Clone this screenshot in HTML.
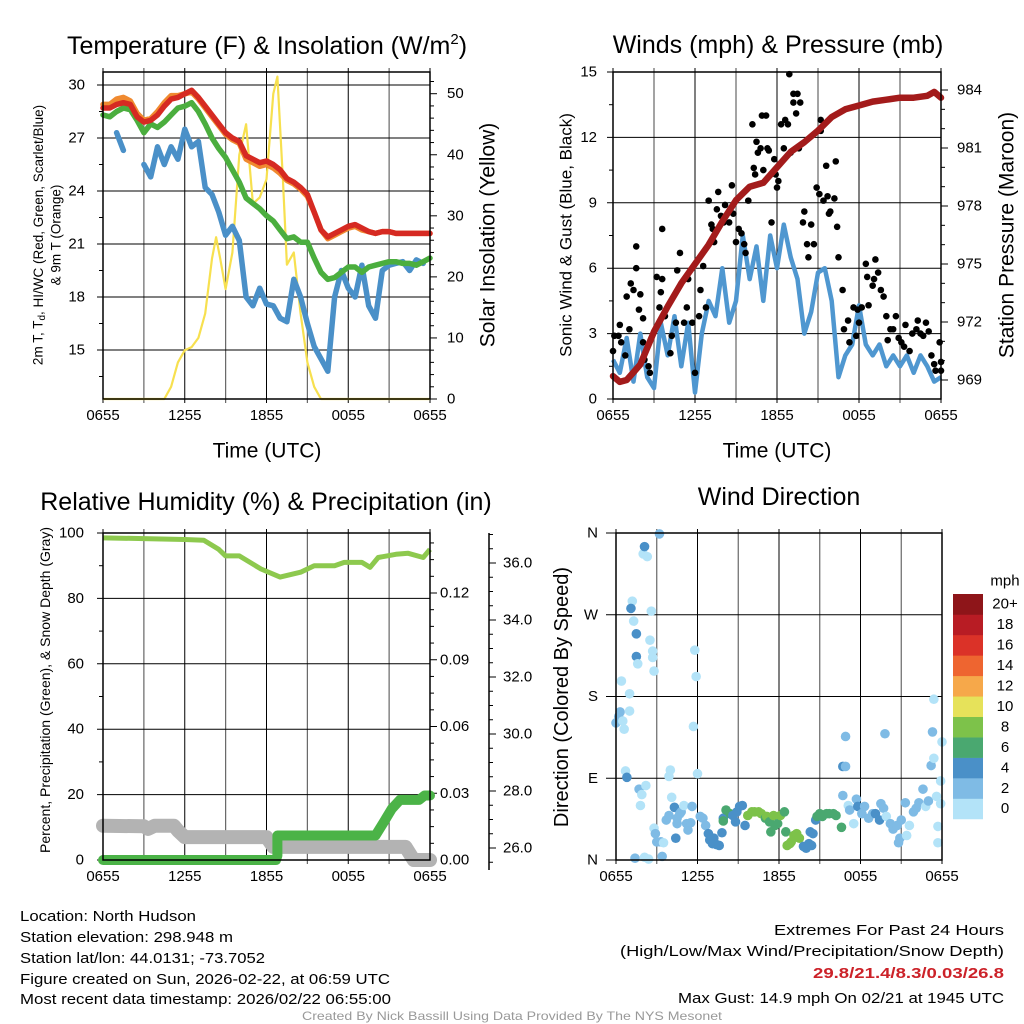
<!DOCTYPE html>
<html><head><meta charset="utf-8"><style>
html,body{margin:0;padding:0;background:#fff;}
svg{display:block;font-family:"Liberation Sans",Arial,sans-serif;}
</style></head><body>
<svg id="chart" width="1024" height="1024" viewBox="0 0 1024 1024" xmlns="http://www.w3.org/2000/svg">
<g id="g1"></g>
<g id="g2"></g>
<g id="g3"></g>
<g id="g4"></g>
<g font-size="15" fill="#000">
<text x="20" y="921" textLength="176" lengthAdjust="spacingAndGlyphs">Location: North Hudson</text>
<text x="20" y="942" textLength="213" lengthAdjust="spacingAndGlyphs">Station elevation: 298.948 m</text>
<text x="20" y="963" textLength="245" lengthAdjust="spacingAndGlyphs">Station lat/lon: 44.0131; -73.7052</text>
<text x="20" y="984" textLength="370" lengthAdjust="spacingAndGlyphs">Figure created on Sun, 2026-02-22, at 06:59 UTC</text>
<text x="20" y="1004" textLength="371" lengthAdjust="spacingAndGlyphs">Most recent data timestamp: 2026/02/22 06:55:00</text>
<text x="774" y="935" textLength="230" lengthAdjust="spacingAndGlyphs">Extremes For Past 24 Hours</text>
<text x="620" y="956" textLength="384" lengthAdjust="spacingAndGlyphs">(High/Low/Max Wind/Precipitation/Snow Depth)</text>
<text x="813" y="978" textLength="191" lengthAdjust="spacingAndGlyphs" font-weight="bold" fill="#cc2229">29.8/21.4/8.3/0.03/26.8</text>
<text x="678" y="1003" textLength="326" lengthAdjust="spacingAndGlyphs">Max Gust: 14.9 mph On 02/21 at 1945 UTC</text>
<text x="302" y="1020" textLength="420" lengthAdjust="spacingAndGlyphs" font-size="12" fill="#999">Created By Nick Bassill Using Data Provided By The NYS Mesonet</text>
</g>
</svg>
<script>
// ---------- DATA ----------
const timeTicks = ["0655","1255","1855","0055","0655"];
const halfHours = [0,0.5,1,1.5,2,2.5,3,3.5,4,4.5,5,5.5,6,6.5,7,7.5,8,8.5,9,9.5,10,10.5,11,11.5,12,12.5,13,13.5,14,14.5,15,15.5,16,16.5,17,17.5,18,18.5,19,19.5,20,20.5,21,21.5,22,22.5,23,23.5,24];
const tempRed = [28.7,28.7,28.9,29.0,28.9,28.2,27.9,28.0,28.3,28.8,29.2,29.3,29.5,29.7,29.3,28.8,28.3,27.8,27.3,27.0,26.8,26.0,25.8,25.6,25.7,25.5,25.2,24.7,24.5,24.2,23.8,22.8,21.8,21.4,21.6,21.8,22.0,22.1,21.9,21.7,21.6,21.7,21.7,21.6,21.6,21.6,21.6,21.6,21.6];
const tempOrange = [28.9,28.9,29.2,29.3,29.1,28.4,28.0,28.1,28.5,29.0,29.4,29.4,29.5,29.6,29.2,28.7,28.2,27.7,27.2,26.9,26.7,25.8,25.6,25.4,25.5,25.3,25.0,24.6,24.4,24.1,23.7,22.8,21.8,21.3,21.5,21.7,21.9,22.0,21.8,21.7,21.6,21.7,21.7,21.6,21.6,21.6,21.6,21.6,21.6];
const tempGreen = [28.3,28.2,28.5,28.7,28.6,28.0,27.3,27.8,27.6,27.9,28.3,28.7,28.8,29.0,28.5,27.8,27.0,26.4,25.9,25.2,24.5,23.6,23.3,23.0,22.6,22.3,21.8,21.3,21.4,21.1,21.1,20.2,19.4,19.0,19.1,19.4,19.7,19.7,19.4,19.7,19.8,19.9,20.0,20.0,19.9,19.9,19.8,20.0,20.2];
const tempBlue = [null,null,27.3,26.3,null,null,25.5,24.8,26.5,25.5,26.5,25.8,27.5,26.5,26.8,24.2,23.8,22.8,21.5,22.0,21.2,18.0,17.5,18.5,17.6,17.5,16.8,16.6,19.0,18.0,16.5,15.2,14.5,13.8,18.0,19.5,18.5,18.0,19.8,17.5,16.8,19.5,19.8,19.9,20.0,19.5,20.1,19.9,null];
const solarTimes = [0,4.5,5,5.5,6,6.5,7,7.5,8,8.3,8.6,9,9.5,10,10.5,11,11.5,12,12.5,12.8,13.2,13.5,14,14.5,15,15.5,16,24];
const solarVals = [0,0,2,6,8,8.5,10,14,23,26.5,23,18,24,40,45,32,33,36,50,52.8,36,22,24,14,6,2,0,0];
const windVals = [1.8,1.2,2.8,0.8,3.0,1.0,0.5,3.5,2.0,3.8,1.5,3.5,0.3,3.0,4.5,3.8,6.0,3.5,4.5,7.5,5.5,7.0,4.5,7.5,6.0,8.0,6.5,5.5,3.0,4.0,5.8,6.0,4.5,1.0,2.0,2.5,4.3,2.5,2.0,2.5,1.5,2.0,1.5,2.0,1.2,2.0,1.5,0.8,1.0];
const pressTimes = [0,0.5,1,2,3,4,5,6,7,8,9,10,11,12,13,14,15,16,17,18,19,20,21,22,23,23.5,24];
const pressVals = [969.2,968.9,969.0,969.8,971.5,972.8,974.0,975.0,976.0,977.2,978.3,979.0,979.2,980.0,980.8,981.3,981.9,982.6,983.0,983.2,983.4,983.5,983.6,983.6,983.7,983.9,983.6];
const gustTimes = [0.0,0.1,0.4,0.5,0.6,0.9,1.0,1.2,1.3,1.5,1.7,1.7,1.9,2.0,2.2,2.2,2.3,2.6,2.7,3.2,3.4,3.5,3.6,3.6,3.8,4.2,4.3,4.6,4.7,4.9,5.2,5.4,5.5,5.8,6.0,6.3,6.4,6.6,6.8,7.0,7.2,7.3,7.4,7.6,7.7,7.9,8.1,8.2,8.5,8.7,8.8,9.0,9.2,9.4,9.6,9.7,9.9,10.2,10.3,10.4,10.5,10.6,10.8,10.9,11.0,11.2,11.3,11.4,11.6,11.8,11.9,12.0,12.1,12.3,12.5,12.6,12.8,12.9,13.0,13.2,13.2,13.4,13.5,13.6,13.7,13.9,14.0,14.2,14.3,14.5,14.7,14.9,15.1,15.2,15.2,15.4,15.6,15.7,15.8,15.9,16.2,16.3,16.4,16.5,16.8,16.9,17.2,17.3,17.6,17.8,17.9,18.0,18.2,18.5,18.6,18.7,19.0,19.1,19.2,19.4,19.6,19.8,20.0,20.1,20.3,20.5,20.7,20.9,21.1,21.3,21.4,21.7,21.9,22.2,22.3,22.5,22.7,22.9,23.1,23.3,23.5,23.6,23.9,24.0,24.0];
const gustVals = [2.2,2.9,2.9,3.4,2.6,2.0,4.7,3.2,5.3,5.0,7.0,6.0,4.1,4.8,3.7,2.6,1.8,1.5,1.2,5.6,4.2,4.9,5.5,7.8,3.8,2.1,2.9,3.5,5.9,6.7,3.5,4.2,5.5,3.5,1.2,3.8,5.0,6.1,4.2,9.1,8.0,7.8,7.2,8.7,9.5,8.4,8.1,8.9,8.1,9.8,8.5,7.2,7.8,7.6,7.1,6.7,9.1,12.6,10.6,10.3,11.8,11.3,11.5,13.0,10.5,13.0,11.5,11.4,8.1,11.0,10.3,9.7,10.0,12.6,11.5,12.8,12.6,14.9,11.3,13.6,14.0,13.1,14.0,11.5,13.6,8.1,8.6,7.1,6.5,8.0,7.1,9.7,9.4,12.8,12.3,9.1,10.7,9.3,8.5,8.6,9.2,10.9,7.9,6.5,5.0,3.2,3.6,2.6,4.2,2.9,4.1,3.5,4.2,6.2,5.6,4.3,5.2,5.5,6.4,5.8,5.0,4.7,3.8,2.7,3.2,3.2,3.8,2.8,2.6,2.4,3.4,2.2,3.0,3.2,3.6,3.0,2.9,3.5,3.1,2.0,1.6,1.3,2.6,1.7,1.3];
const rhTimes = [0,3,6,7.4,8.5,9,10,11.6,13,14.5,15.5,17,17.7,19,19.6,20.2,21.5,22.4,23.5,24];
const rhVals = [98.5,98.3,98.0,97.8,95.0,93.0,93.0,89.0,86.5,88.0,90.0,90.0,91.0,91.0,89.5,92.5,93.5,93.8,92.5,95.0];
const precipTimes = [0,12.7,12.8,12.8,20.0,20.6,21.2,21.8,23.2,23.6,24];
const precipVals = [0,0,0.002,0.011,0.011,0.017,0.023,0.027,0.027,0.029,0.029];
const snowTimes = [0,3,3.3,3.8,5.2,5.5,6,12,12.5,22.2,22.8,24];
const snowPct = [10.5,10.3,9.5,10.5,10.5,9.0,7.0,7.0,4.0,4.0,0.0,0.0];
const dirTimes = [0.0,0.3,0.2,0.5,0.6,0.4,1.0,1.0,0.7,0.8,1.4,1.2,1.1,1.3,1.5,1.5,1.6,2.0,2.1,2.3,1.7,1.9,1.8,2.2,2.1,2.4,2.6,2.5,2.7,2.7,2.8,2.8,2.9,3.0,3.2,3.3,3.4,3.5,3.7,3.9,4.0,3.9,4.1,4.3,4.4,4.5,4.5,4.7,4.8,5.0,5.2,5.3,5.5,5.6,5.8,5.9,5.7,6.0,6.2,6.4,6.6,6.8,6.9,7.1,7.2,7.4,7.6,7.8,7.9,7.9,8.1,8.4,8.6,8.8,8.9,9.1,9.3,9.5,9.7,10.0,10.2,10.5,10.7,11.0,11.1,11.3,11.4,11.6,11.7,11.9,12.1,12.4,12.5,12.6,12.8,12.9,13.1,13.3,13.5,13.8,14.0,14.2,14.3,14.5,14.4,14.7,14.8,15.0,15.2,15.5,15.7,16.0,16.2,16.6,16.7,16.7,16.9,16.9,17.1,17.2,17.5,17.7,17.8,18.1,18.3,18.6,18.9,19.1,19.4,19.5,19.7,19.8,19.9,20.2,20.4,20.7,20.8,20.9,21.0,21.3,21.4,21.6,21.9,22.1,22.3,22.6,22.8,23.0,23.2,23.3,23.4,23.4,23.6,23.7,23.7,23.9,23.9,24.0];
const dirDeg = [151,163,158,153,144,197,164,183,98,91,2,285,277,263,249,224,216,337,345,334,78,72,60,82,3,1,274,242,230,223,208,35,29,20,359,20,4,19,44,49,99,92,69,58,24,40,46,51,53,60,40,33,41,59,231,202,147,95,48,46,38,29,22,18,24,17,16,30,46,43,55,51,49,42,53,59,60,38,49,53,53,53,51,46,48,42,31,49,38,40,49,53,31,16,18,20,27,29,24,15,13,18,31,29,16,44,48,51,48,51,51,51,49,36,71,103,103,136,60,55,40,67,59,51,59,46,51,51,44,62,57,139,48,40,34,38,19,24,44,63,27,38,53,57,63,78,59,65,104,141,177,112,70,37,19,62,87,130];
const dirSpeed = [2,2,2,0.5,0.5,0.5,0.5,0.5,0.5,4,2,0.5,4,0.5,4,4,0.5,0.5,4,0.5,2,0.5,0.5,0.5,0.5,0.5,0.5,0.5,0.5,0.5,0.5,0.5,2,2,2,2,2,0.5,2,2,0.5,0.5,0.5,4,4,2,2,2,2,0.5,2,2,2,2,0.5,0.5,0.5,0.5,2,2,2,4,4,4,4,4,4,4,4,6,6,6,4,4,4,4,4,4,8,8,8,8,8,6,8,6,6,8,6,6,8,6,6,8,8,8,8,8,8,4,4,4,4,4,4,4,6,6,6,6,6,6,6,6,2,4,2,2,0.5,2,0.5,2,4,2,2,2,2,4,4,2,2,2,0.5,2,2,2,2,2,2,2,0.5,0.5,2,2,2,2,0.5,2,2,2,0.5,0.5,0.5,0.5,0.5,0.5,0.5,0.5,0.5,0.5];
const speedColors = ["#b3e3f8","#7fbbe5","#4a90c8","#4aa870","#7dc24a","#e6e25a","#f6a84a","#ee6530","#db3228","#b81c24","#8e1519"];
const speedLabels = ["0","2","4","6","8","10","12","14","16","18","20+"];

// ---------- HELPERS ----------
const NS = "http://www.w3.org/2000/svg";
function mk(parent, tag, attrs, text) {
  const e = document.createElementNS(NS, tag);
  for (const k in attrs) e.setAttribute(k, attrs[k]);
  if (text !== undefined) e.textContent = text;
  parent.appendChild(e);
  return e;
}
function linScale(d0, d1, r0, r1) { return v => r0 + (v - d0) * (r1 - r0) / (d1 - d0); }
function pathFrom(ts, vs, xs, ys) {
  let d = "", pen = false;
  for (let i = 0; i < ts.length; i++) {
    if (vs[i] === null) { pen = false; continue; }
    d += (pen ? "L" : "M") + xs(ts[i]).toFixed(1) + "," + ys(vs[i]).toFixed(1);
    pen = true;
  }
  return d;
}
function frame(g, x0, x1, y0, y1, xs, withLabels) {
  for (let h = 0; h <= 24; h += 3) {
    const x = xs(h);
    const l = mk(g, "line", {x1: x, x2: x, y1: y0 - 4, y2: y1 + 4, stroke: "#000", "stroke-width": (h % 6 === 0 ? 1 : 1.2), "stroke-opacity": (h % 6 === 0 ? 1 : 0.6)});
    
    
  }
  if (withLabels) {
    timeTicks.forEach((lab, i) => {
      const t = mk(g, "text", {x: xs(i * 6), y: y1 + 21, "font-size": 15, "text-anchor": "middle"}, lab);
      
      
    });
  }
}
function hgrid(g, x0, x1, y, tickLen) {
  const l = mk(g, "line", {x1: x0 - tickLen, x2: x1, y1: y, y2: y, stroke: "#000", "stroke-width": 1});
  
  
}
function tick(g, x, y, len) {
  const l = mk(g, "line", {x1: x, x2: x + len, y1: y, y2: y, stroke: "#000", "stroke-width": 1});
  
  
}
function label(g, x, y, s, anchor, size, name) {
  const t = mk(g, "text", {x: x, y: y, "font-size": size, "text-anchor": anchor, "dominant-baseline": "central"}, s);
  
  
  return t;
}
function rotLabel(g, x, y, s, size, name, rot) {
  const t = mk(g, "text", {x: 0, y: 0, "font-size": size, "text-anchor": "middle", "dominant-baseline": "central", transform: `translate(${x},${y}) rotate(${rot || -90})`}, s);
  
  
  return t;
}
function border(g, x0, x1, y0, y1) {
  const r = mk(g, "rect", {x: x0, y: y0, width: x1 - x0, height: y1 - y0, fill: "none", stroke: "#000", "stroke-width": 1.5});
  
  
}

// ---------- PANEL 1 ----------
(function(){
  const g = document.getElementById("g1");
  const X0 = 103, X1 = 430, Y0 = 72, Y1 = 399;
  const xs = linScale(0, 24, X0, X1);
  const yT = linScale(15, 30, 350, 85);
  const yS = linScale(0, 50, 399, 93.7);
  frame(g, X0, X1, Y0, Y1, xs, true);
  for (let v = 15; v <= 30; v += 3) { hgrid(g, X0, X1, yT(v), 6); label(g, 85, yT(v), String(v), "end", 15, "temp-tick-label"); }
  for (let v = 13.5; v <= 30; v += 3) tick(g, X0 - 4, yT(v), 4);
  for (let v = 0; v <= 52; v += 2) tick(g, X1, yS(v), v % 10 === 0 ? 7 : 4);
  for (let v = 0; v <= 50; v += 10) label(g, 447, yS(v), String(v), "start", 15, "solar-tick-label");
  const sol = mk(g, "path", {d: pathFrom(solarTimes, solarVals, xs, yS), fill: "none", stroke: "#f7e04f", "stroke-width": 2.2, "stroke-linejoin": "round"});
  
  
  const series = [[tempBlue, "#4a90c8", "dewpoint-line"], [tempGreen, "#4bae3e", "windchill-line"], [tempOrange, "#f08a30", "temp-9m-line"], [tempRed, "#d62a22", "temp-2m-line"]];
  series.forEach(s => {
    const p = mk(g, "path", {d: pathFrom(halfHours, s[0], xs, yT), fill: "none", stroke: s[1], "stroke-width": 5.5, "stroke-linejoin": "round", "stroke-linecap": "round"});
    
    
  });
  border(g, X0, X1, Y0, Y1);
  const tt = mk(g, "text", {x: 267, y: 54, "font-size": 25, "text-anchor": "middle"});
  tt.innerHTML = 'Temperature (F) &amp; Insolation (W/m<tspan dy="-10" font-size="15">2</tspan><tspan dy="10">)</tspan>';
  
  
  label(g, 267, 451, "Time (UTC)", "middle", 21, "time-axis-title");
  const yl = mk(g, "text", {x: 0, y: 0, "font-size": 13.5, "text-anchor": "middle", "dominant-baseline": "central", transform: "translate(38,235) rotate(-90)"});
  yl.innerHTML = '2m T, T<tspan dy="4" font-size="10">d</tspan><tspan dy="-4">, HI/WC (Red, Green, Scarlet/Blue)</tspan>';
  
  
  rotLabel(g, 56, 235, "& 9m T (Orange)", 13.5, "temp-axis-title-line2");
  rotLabel(g, 488, 235, "Solar Insolation (Yellow)", 21, "solar-axis-title");
})();

// ---------- PANEL 2 ----------
(function(){
  const g = document.getElementById("g2");
  const X0 = 613, X1 = 941, Y0 = 72, Y1 = 399;
  const xs = linScale(0, 24, X0, X1);
  const yW = linScale(0, 15, 399, 72);
  const yP = linScale(969, 984, 380, 90);
  frame(g, X0, X1, Y0, Y1, xs, true);
  for (let v = 0; v <= 15; v += 3) { hgrid(g, X0, X1, yW(v), 6); label(g, 597, yW(v), String(v), "end", 15, "wind-tick-label"); }
  for (let v = 1.5; v <= 15; v += 3) tick(g, X0 - 4, yW(v), 4);
  for (let v = 969; v <= 984; v += 1) tick(g, X1, yP(v), (v - 969) % 3 === 0 ? 7 : 4);
  for (let v = 969; v <= 984; v += 3) label(g, 957, yP(v), String(v), "start", 15, "pressure-tick-label");
  const w = mk(g, "path", {d: pathFrom(halfHours, windVals, xs, yW), fill: "none", stroke: "#4f97d0", "stroke-width": 4.5, "stroke-linejoin": "round"});
  
  
  gustTimes.forEach((t, i) => {
    const c = mk(g, "circle", {cx: xs(t), cy: yW(gustVals[i]), r: 3.3, fill: "#000"});
    
    
  });
  const p = mk(g, "path", {d: pathFrom(pressTimes, pressVals, xs, yP), fill: "none", stroke: "#a31b1b", "stroke-width": 6.5, "stroke-linejoin": "round", "stroke-linecap": "round"});
  
  
  border(g, X0, X1, Y0, Y1);
  label(g, 778, 45, "Winds (mph) & Pressure (mb)", "middle", 25, "winds-title");
  label(g, 777, 451, "Time (UTC)", "middle", 21, "time-axis-title");
  rotLabel(g, 566, 235, "Sonic Wind & Gust (Blue, Black)", 17, "wind-axis-title");
  rotLabel(g, 1007, 235, "Station Pressure (Maroon)", 21, "pressure-axis-title");
})();

// ---------- PANEL 3 ----------
(function(){
  const g = document.getElementById("g3");
  const X0 = 103, X1 = 430, Y0 = 533, Y1 = 860;
  const xs = linScale(0, 24, X0, X1);
  const yR = linScale(0, 100, 860, 533);
  const yPr = linScale(0, 0.12, 860, 593);
  const ySd = linScale(26, 36, 848, 563);
  frame(g, X0, X1, Y0, Y1, xs, true);
  for (let v = 0; v <= 100; v += 20) { hgrid(g, X0, X1, yR(v), 6); label(g, 84, yR(v), String(v), "end", 15, "percent-tick-label"); }
  for (let v = 10; v <= 100; v += 20) tick(g, X0 - 4, yR(v), 4);
  for (let v = 0; v <= 0.145; v += 0.0075) tick(g, X1, yPr(v), Math.abs((v / 0.03) - Math.round(v / 0.03)) < 0.01 ? 7 : 4);
  [0, 0.03, 0.06, 0.09, 0.12].forEach(v => label(g, 440, yPr(v), v.toFixed(2), "start", 15, "precip-tick-label"));
  const ax = mk(g, "line", {x1: 489, x2: 489, y1: 533, y2: 870, stroke: "#000", "stroke-width": 1.5});
  
  
  for (let v = 25.5; v <= 37; v += 0.5) tick(g, 489, ySd(v), v % 2 === 0 ? 7 : 4);
  for (let v = 26; v <= 36; v += 2) label(g, 503, ySd(v), v.toFixed(1), "start", 15, "snow-tick-label");
  const sn = mk(g, "path", {d: pathFrom(snowTimes, snowPct, xs, yR), fill: "none", stroke: "#b3b3b3", "stroke-width": 14, "stroke-linejoin": "round", "stroke-linecap": "round"});
  
  
  const pr = mk(g, "path", {d: pathFrom(precipTimes, precipVals, xs, yPr), fill: "none", stroke: "#4bb347", "stroke-width": 10, "stroke-linejoin": "round", "stroke-linecap": "round"});
  
  
  const rh = mk(g, "path", {d: pathFrom(rhTimes, rhVals, xs, yR), fill: "none", stroke: "#8dc94e", "stroke-width": 5, "stroke-linejoin": "round"});
  
  
  border(g, X0, X1, Y0, Y1);
  label(g, 266, 502, "Relative Humidity (%) & Precipitation (in)", "middle", 25, "humidity-title");
  rotLabel(g, 45, 690, "Percent, Precipitation (Green), & Snow Depth (Gray)", 14, "percent-axis-title");
})();

// ---------- PANEL 4 ----------
(function(){
  const g = document.getElementById("g4");
  const X0 = 616, X1 = 942, Y0 = 533, Y1 = 860;
  const xs = linScale(0, 24, X0, X1);
  const yD = linScale(0, 360, 860, 533);
  frame(g, X0, X1, Y0, Y1, xs, true);
  ["N","E","S","W","N"].forEach((lab, i) => { hgrid(g, X0, X1, yD(i * 90), 10); label(g, 598, yD(i * 90), lab, "end", 15, "direction-tick-label"); });
  dirTimes.forEach((t, i) => {
    const bin = Math.min(10, Math.floor(dirSpeed[i] / 2 + 0.5));
    const c = mk(g, "circle", {cx: xs(t), cy: yD(dirDeg[i]), r: 4.8, fill: speedColors[bin]});
    
    
  });
  border(g, X0, X1, Y0, Y1);
  label(g, 779, 497, "Wind Direction", "middle", 25, "wind-direction-title");
  rotLabel(g, 562, 697, "Direction (Colored By Speed)", 20, "direction-axis-title");
  const cbTop = 594, cbH = 20.45;
  speedColors.forEach((col, i) => {
    const y = cbTop + (10 - i) * cbH;
    const r = mk(g, "rect", {x: 953, y: y, width: 30, height: cbH + 0.3, fill: col});
    
    
    label(g, 1005, y + cbH / 2, speedLabels[i], "middle", 15, "colorbar-label");
  });
  label(g, 1005, 581, "mph", "middle", 15, "colorbar-title");
})();
</script>
</body></html>
